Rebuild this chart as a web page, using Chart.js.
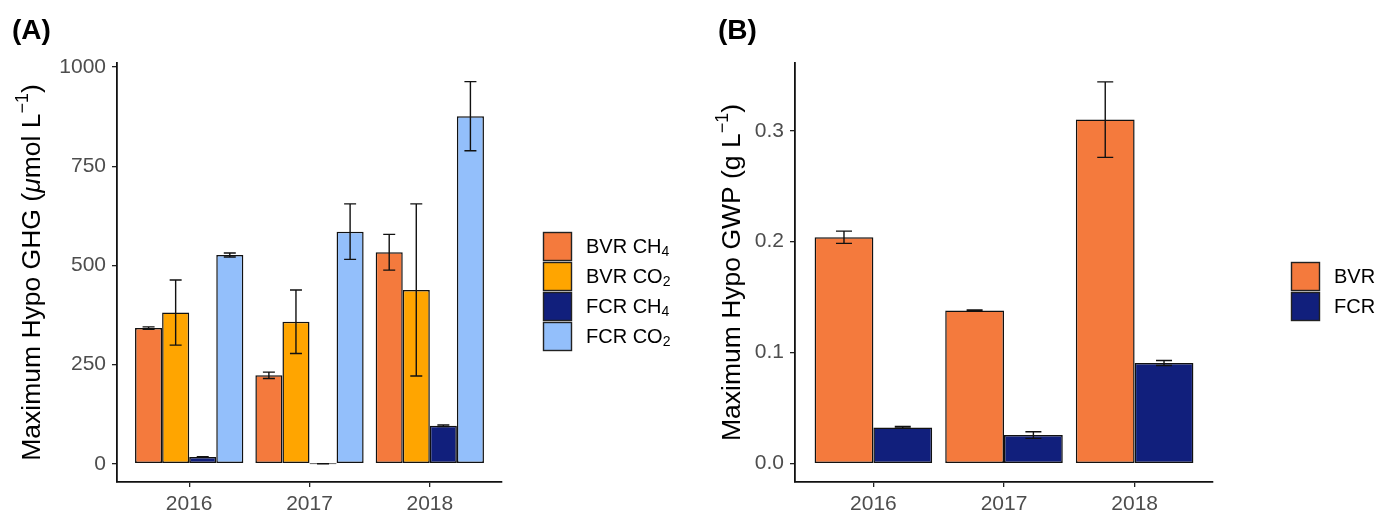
<!DOCTYPE html>
<html>
<head>
<meta charset="utf-8">
<script src="https://cdn.jsdelivr.net/npm/chart.js@4.4.1/dist/chart.umd.min.js"></script>
<style>
  body { margin: 0; background: #fff; }
  #wrap { position: relative; width: 1380px; height: 512px; }
  .panel { position: absolute; top: 0; height: 512px; }
  #panelA { left: 0; width: 700px; }
  #panelB { left: 700px; width: 680px; }
</style>
</head>
<body>
<div id="wrap">
  <div class="panel" id="panelA"><canvas id="chartA"></canvas></div>
  <div class="panel" id="panelB"><canvas id="chartB"></canvas></div>
</div>
<script>
// categories
const years = ['2016', '2017', '2018'];

// panel A - max hypolimnion GHG (umol/L), mean and error
const seriesA = ['BVR CH₄', 'BVR CO₂', 'FCR CH₄', 'FCR CO₂'];
const bvrCH4 = [342, 223, 533];
const bvrCH4Err = [3, 8, 45];
const bvrCO2 = [381, 358, 438];
const bvrCO2Err = [82, 80, 217];
const fcrCH4 = [17, 0, 96];
const fcrCH4Err = [1, 0, 2];
const fcrCO2 = [526, 585, 876];
const fcrCO2Err = [5, 70, 87];
const yTicksA = [0, 250, 500, 750, 1000];

// panel B - max hypolimnion GWP (g/L)
const seriesB = ['BVR', 'FCR'];
const bvrGWP = [0.204, 0.138, 0.310];
const bvrGWPErr = [0.0055, 0.0005, 0.034];
const fcrGWP = [0.0327, 0.0258, 0.0907];
const fcrGWPErr = [0.0008, 0.003, 0.0023];
const yTicksB = [0, 0.1, 0.2, 0.3];

const colBvrCH4 = '#F47A3D';
const colBvrCO2 = '#FFA500';
const colFcrCH4 = '#111F7C';
const colFcrCO2 = '#93BFFB';

const FONT = '"Liberation Sans", Arial, sans-serif';
Chart.defaults.font.family = FONT;

function toPoints(vals) {
  return vals.map((v, i) => ({ x: i, y: v }));
}

function makeDataset(label, vals, errs, color) {
  return {
    label: label,
    data: toPoints(vals),
    errors: errs,
    backgroundColor: color,
    borderColor: '#111',
    borderWidth: 1.5,
    borderSkipped: false,
    minBarLength: 1,
    categoryPercentage: 0.9,
    barPercentage: 1.0
  };
}

// text with sub/superscripts, drawn left to right
function drawRich(ctx, parts, x, y, align) {
  let total = 0;
  parts.forEach(p => {
    ctx.font = (p.style || '') + ' ' + (p.weight || '') + ' ' + p.size + 'px ' + FONT;
    p.w = ctx.measureText(p.t).width;
    total += p.w;
  });
  let cx = align === 'center' ? x - total / 2 : x;
  parts.forEach(p => {
    ctx.font = (p.style || '') + ' ' + (p.weight || '') + ' ' + p.size + 'px ' + FONT;
    ctx.fillText(p.t, cx, y + (p.dy || 0));
    cx += p.w;
  });
}

// split "CH₄" style labels into normal and subscript runs
const subMap = { '₀': '0', '₁': '1', '₂': '2', '₃': '3', '₄': '4', '₅': '5', '₆': '6', '₇': '7', '₈': '8', '₉': '9' };
function labelParts(str, size) {
  let parts = [];
  for (const ch of str) {
    const sub = subMap[ch] !== undefined;
    const last = parts[parts.length - 1];
    if (last && last.sub === sub) {
      last.t += sub ? subMap[ch] : ch;
    } else {
      parts.push({ t: sub ? subMap[ch] : ch, sub: sub, size: sub ? size * 0.7 : size, dy: sub ? 5 : 0 });
    }
  }
  return parts;
}

const errorBars = {
  id: 'errorBars',
  afterDatasetsDraw(chart, args, opts) {
    const ctx = chart.ctx;
    const yScale = chart.scales.y;
    ctx.save();
    ctx.strokeStyle = '#111';
    ctx.lineWidth = 1.4;
    chart.data.datasets.forEach((ds, di) => {
      const meta = chart.getDatasetMeta(di);
      meta.data.forEach((bar, i) => {
        const v = ds.data[i].y;
        const e = ds.errors[i];
        const top = yScale.getPixelForValue(v + e);
        const bot = yScale.getPixelForValue(v - e);
        const hw = opts.cap;
        ctx.beginPath();
        ctx.moveTo(bar.x, top); ctx.lineTo(bar.x, bot);
        ctx.moveTo(bar.x - hw, top); ctx.lineTo(bar.x + hw, top);
        ctx.moveTo(bar.x - hw, bot); ctx.lineTo(bar.x + hw, bot);
        ctx.stroke();
      });
    });
    ctx.restore();
  }
};

// panel letter, y axis title and legend
const decor = {
  id: 'decor',
  afterDraw(chart, args, o) {
    const ctx = chart.ctx;
    const area = chart.chartArea;
    ctx.save();
    ctx.fillStyle = '#000';
    ctx.textBaseline = 'alphabetic';
    drawRich(ctx, [{ t: o.letter, size: 28, weight: 'bold' }], o.letterX, 39, 'left');

    ctx.save();
    ctx.translate(o.titleX, (area.top + area.bottom) / 2);
    ctx.rotate(-Math.PI / 2);
    drawRich(ctx, o.title, 0, 0, 'center');
    ctx.restore();

    ctx.textBaseline = 'middle';
    chart.data.datasets.forEach((ds, i) => {
      const y = o.legendY + i * o.legendStep;
      ctx.fillStyle = ds.backgroundColor;
      ctx.fillRect(o.legendX, y, o.box, o.box);
      ctx.strokeStyle = '#222';
      ctx.lineWidth = 1.4;
      ctx.strokeRect(o.legendX + 0.5, y + 0.5, o.box - 1, o.box - 1);
      ctx.fillStyle = '#000';
      drawRich(ctx, labelParts(ds.label, 20), o.legendX + o.box + 14, y + o.box / 2 + 1, 'left');
    });
    ctx.restore();
  }
};

function axisCommon() {
  return {
    grid: { display: true, drawOnChartArea: false, drawTicks: true, tickLength: 5, color: '#222', lineWidth: 1.3, offset: false },
    border: { display: true, color: '#111', width: 1.8 },
    ticks: { color: '#4d4d4d', font: { size: 21 } }
  };
}

function makeChart(id, datasets, yMin, yMax, yTicks, yFmt, padRight, yWidth, plugOpts) {
  const xAxis = axisCommon();
  Object.assign(xAxis, {
    type: 'linear', min: -0.6, max: 2.6, offset: false,
    afterBuildTicks: s => { s.ticks = years.map((y, i) => ({ value: i })); },
    afterFit: s => { s.height = 30; }
  });
  xAxis.ticks.callback = v => years[v];
  xAxis.ticks.padding = 5;
  xAxis.ticks.maxRotation = 0;

  const yAxis = axisCommon();
  Object.assign(yAxis, {
    min: yMin, max: yMax,
    afterBuildTicks: s => { s.ticks = yTicks.map(v => ({ value: v })); },
    afterFit: s => { s.width = yWidth; }
  });
  yAxis.ticks.callback = yFmt;
  yAxis.ticks.padding = 6;

  return new Chart(document.getElementById(id), {
    type: 'bar',
    data: { datasets: datasets },
    options: {
      responsive: true,
      maintainAspectRatio: false,
      animation: false,
      layout: { padding: { left: 0, right: padRight, top: 63, bottom: 0 } },
      scales: { x: xAxis, y: yAxis },
      plugins: {
        legend: { display: false },
        tooltip: { enabled: false },
        errorBars: { cap: plugOpts.cap },
        decor: plugOpts
      }
    },
    plugins: [errorBars, decor]
  });
}

makeChart('chartA', [
  makeDataset(seriesA[0], bvrCH4, bvrCH4Err, colBvrCH4),
  makeDataset(seriesA[1], bvrCO2, bvrCO2Err, colBvrCO2),
  makeDataset(seriesA[2], fcrCH4, fcrCH4Err, colFcrCH4),
  makeDataset(seriesA[3], fcrCO2, fcrCO2Err, colFcrCO2)
], -46, 1010, yTicksA, v => String(v), 198, 117, {
  cap: 6,
  letter: '(A)', letterX: 12,
  titleX: 40,
  title: [
    { t: 'Maximum Hypo GHG (', size: 26.5 },
    { t: 'μ', size: 26.5, style: 'italic' },
    { t: 'mol L', size: 26.5 },
    { t: '−1', size: 18, dy: -12 },
    { t: ')', size: 26.5 }
  ],
  legendX: 543, legendY: 232, legendStep: 30, box: 29
});

makeChart('chartB', [
  makeDataset(seriesB[0], bvrGWP, bvrGWPErr, colBvrCH4),
  makeDataset(seriesB[1], fcrGWP, fcrGWPErr, colFcrCH4)
], -0.0165, 0.361, yTicksB, v => v.toFixed(1), 167, 95, {
  cap: 8,
  letter: '(B)', letterX: 18,
  titleX: 40,
  title: [
    { t: 'Maximum Hypo GWP (g L', size: 26.5 },
    { t: '−1', size: 18, dy: -12 },
    { t: ')', size: 26.5 }
  ],
  legendX: 591, legendY: 262, legendStep: 30, box: 29
});
</script>
</body>
</html>
